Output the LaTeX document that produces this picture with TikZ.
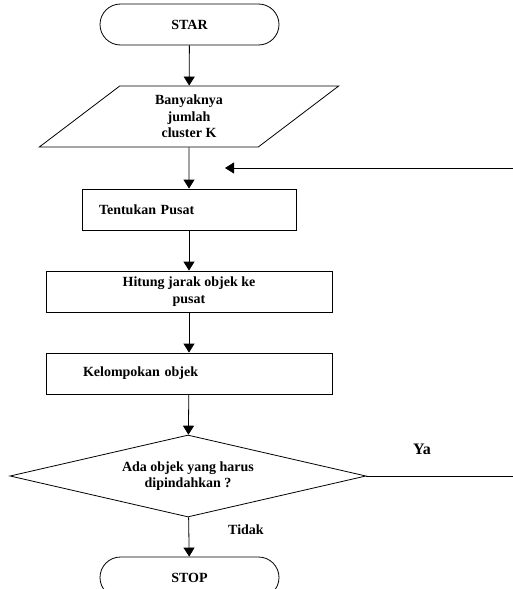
\documentclass[tikz,border=0pt]{standalone}
\usepackage{fontspec}
\setmainfont{Liberation Serif}
\usetikzlibrary{shapes.geometric,shapes.misc,arrows.meta}

\tikzset{
    terminal/.style={rounded rectangle, draw, minimum width=179pt, minimum height=41pt, inner sep=0pt},
    inputbox/.style={trapezium, draw, trapezium left angle=47.5, trapezium right angle=132.5,
        trapezium stretches=true, minimum width=300pt, minimum height=61pt, inner sep=0pt, align=center},
    procbox/.style={rectangle, draw, minimum height=41pt, inner sep=0pt},
    decision/.style={diamond, draw, minimum width=356pt, minimum height=82pt, inner sep=0pt, aspect=4.34, align=center},
    flow/.style={-{Triangle[width=11pt,length=9pt]}, line width=0.8pt},
    plain/.style={line width=0.8pt}
}

\begin{document}
\begin{tikzpicture}[x=1pt, y=-1pt, line width=0.8pt, font=\fontsize{14}{16.5}\selectfont\bfseries]
    \useasboundingbox (0,0) rectangle (513,589);
    \clip (0,0) rectangle (513,589);

    \node[terminal] (start) at (189.5, 24.5) {STAR};
    \node[inputbox] (jumlah) at (189, 116.5) {Banyaknya\\jumlah\\cluster K};
    \node[procbox, minimum width=214pt, text width=180pt, inner xsep=17pt, align=left] (pusat) at (189, 209.5) {Tentukan Pusat};
    \node[procbox, minimum width=286pt, align=center] (jarak) at (189, 291.5) {Hitung jarak objek ke\\pusat};
    \node[procbox, minimum width=286pt, text width=212pt, inner xsep=37pt, align=left] (kelompok) at (189, 373.5) {Kelompokan objek};
    \node[decision] (pindah) at (188, 476) {Ada objek yang harus\\dipindahkan ?};
    \node[terminal] (stop) at (189.5, 577.5) {STOP};

    \coordinate (ulangawal) at (513, 168);
    \coordinate (ulangakhir) at (225, 168);
    \coordinate (yaakhir) at (513, 476);

    \draw[flow] (start) -- (jumlah);
    \draw[flow] (jumlah) -- (pusat);
    \draw[flow] (pusat) -- (jarak);
    \draw[flow] (jarak) -- (kelompok);
    \draw[flow] (kelompok) -- (pindah);
    \draw[flow] (pindah) -- (stop);
    \draw[flow] (ulangawal) -- (ulangakhir);
    \draw[plain] (pindah.east) -- (yaakhir);

    \node[font=\fontsize{16}{18}\selectfont\bfseries] (ya) at (422, 449) {Ya};
    \node (tidak) at (246, 530) {Tidak};
\end{tikzpicture}
\end{document}
